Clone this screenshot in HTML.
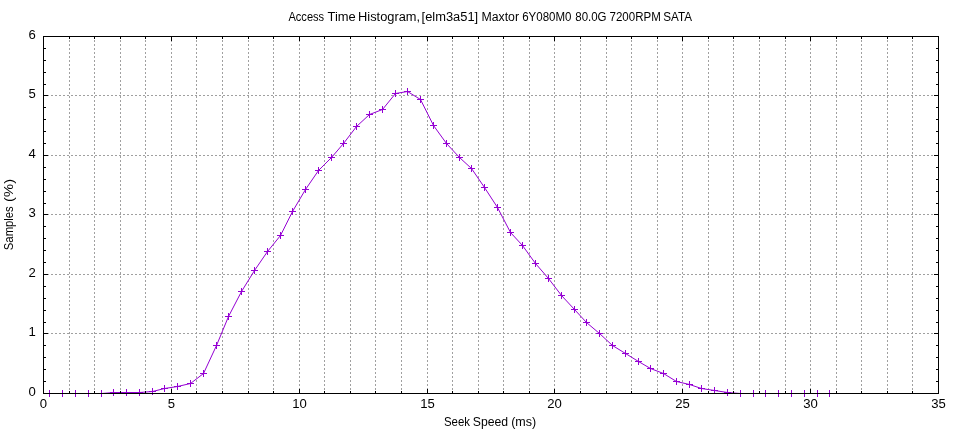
<!DOCTYPE html>
<html><head><meta charset="utf-8"><title>Access Time Histogram</title>
<style>html,body{margin:0;padding:0;background:#fff;overflow:hidden}svg{display:block;font-family:"Liberation Sans",sans-serif}</style></head>
<body>
<svg width="960" height="432" viewBox="0 0 960 432">
<rect width="960" height="432" fill="#fff"/>
<path d="M69.5 394V36M94.5 394V36M120.5 394V36M145.5 394V36M171.5 394V36M196.5 394V36M222.5 394V36M248.5 394V36M273.5 394V36M299.5 394V36M324.5 394V36M350.5 394V36M375.5 394V36M401.5 394V36M427.5 394V36M452.5 394V36M478.5 394V36M503.5 394V36M529.5 394V36M554.5 394V36M580.5 394V36M606.5 394V36M631.5 394V36M657.5 394V36M682.5 394V36M708.5 394V36M733.5 394V36M759.5 394V36M785.5 394V36M810.5 394V36M836.5 394V36M861.5 394V36M887.5 394V36M912.5 394V36" stroke="#a0a0a0" stroke-width="1" stroke-dasharray="2 2" fill="none" shape-rendering="crispEdges"/>
<path d="M43 333.5H939M43 274.5H939M43 214.5H939M43 155.5H939M43 95.5H939" stroke="#a0a0a0" stroke-width="1" stroke-dasharray="2 2" fill="none" shape-rendering="crispEdges"/>
<polyline points="49.5,393.5 62.5,393.5 75.5,393.5 88.5,393.5 101.5,393.5 113.5,392.5 126.5,392.5 139.5,392.5 152.5,391.5 164.5,388.5 177.5,386.5 190.5,383.5 203.5,373.5 216.5,345.5 228.5,316.5 241.5,291.5 254.5,270.5 267.5,251.5 280.5,235.5 292.5,211.5 305.5,189.5 318.5,170.5 331.5,157.5 343.5,143.5 356.5,126.5 369.5,114.5 382.5,109.5 395.5,93.5 407.5,91.5 420.5,99.5 433.5,125.5 446.5,143.5 459.5,157.5 471.5,168.5 484.5,187.5 497.5,207.5 510.5,232.5 522.5,245.5 535.5,263.5 548.5,278.5 561.5,295.5 574.5,309.5 586.5,322.5 599.5,333.5 612.5,345.5 625.5,353.5 638.5,361.5 650.5,368.5 663.5,373.5 676.5,381.5 689.5,384.5 701.5,388.5 714.5,390.5 727.5,392.5 740.5,393.5 753.5,393.5 765.5,393.5 778.5,393.5 791.5,393.5 804.5,393.5 817.5,393.5 829.5,393.5" fill="none" stroke="#9400d3" stroke-width="1" stroke-linejoin="round"/>
<path d="M46.0 393.5h7M49.5 390.0v7M59.0 393.5h7M62.5 390.0v7M72.0 393.5h7M75.5 390.0v7M85.0 393.5h7M88.5 390.0v7M98.0 393.5h7M101.5 390.0v7M110.0 392.5h7M113.5 389.0v7M123.0 392.5h7M126.5 389.0v7M136.0 392.5h7M139.5 389.0v7M149.0 391.5h7M152.5 388.0v7M161.0 388.5h7M164.5 385.0v7M174.0 386.5h7M177.5 383.0v7M187.0 383.5h7M190.5 380.0v7M200.0 373.5h7M203.5 370.0v7M213.0 345.5h7M216.5 342.0v7M225.0 316.5h7M228.5 313.0v7M238.0 291.5h7M241.5 288.0v7M251.0 270.5h7M254.5 267.0v7M264.0 251.5h7M267.5 248.0v7M277.0 235.5h7M280.5 232.0v7M289.0 211.5h7M292.5 208.0v7M302.0 189.5h7M305.5 186.0v7M315.0 170.5h7M318.5 167.0v7M328.0 157.5h7M331.5 154.0v7M340.0 143.5h7M343.5 140.0v7M353.0 126.5h7M356.5 123.0v7M366.0 114.5h7M369.5 111.0v7M379.0 109.5h7M382.5 106.0v7M392.0 93.5h7M395.5 90.0v7M404.0 91.5h7M407.5 88.0v7M417.0 99.5h7M420.5 96.0v7M430.0 125.5h7M433.5 122.0v7M443.0 143.5h7M446.5 140.0v7M456.0 157.5h7M459.5 154.0v7M468.0 168.5h7M471.5 165.0v7M481.0 187.5h7M484.5 184.0v7M494.0 207.5h7M497.5 204.0v7M507.0 232.5h7M510.5 229.0v7M519.0 245.5h7M522.5 242.0v7M532.0 263.5h7M535.5 260.0v7M545.0 278.5h7M548.5 275.0v7M558.0 295.5h7M561.5 292.0v7M571.0 309.5h7M574.5 306.0v7M583.0 322.5h7M586.5 319.0v7M596.0 333.5h7M599.5 330.0v7M609.0 345.5h7M612.5 342.0v7M622.0 353.5h7M625.5 350.0v7M635.0 361.5h7M638.5 358.0v7M647.0 368.5h7M650.5 365.0v7M660.0 373.5h7M663.5 370.0v7M673.0 381.5h7M676.5 378.0v7M686.0 384.5h7M689.5 381.0v7M698.0 388.5h7M701.5 385.0v7M711.0 390.5h7M714.5 387.0v7M724.0 392.5h7M727.5 389.0v7M737.0 393.5h7M740.5 390.0v7M750.0 393.5h7M753.5 390.0v7M762.0 393.5h7M765.5 390.0v7M775.0 393.5h7M778.5 390.0v7M788.0 393.5h7M791.5 390.0v7M801.0 393.5h7M804.5 390.0v7M814.0 393.5h7M817.5 390.0v7M826.0 393.5h7M829.5 390.0v7" stroke="#9400d3" stroke-width="1" fill="none"/>
<path d="M43.5 393.5v-4.5M43.5 36.5v4.5M69.5 393.5v-2.5M69.5 36.5v2.5M94.5 393.5v-2.5M94.5 36.5v2.5M120.5 393.5v-2.5M120.5 36.5v2.5M145.5 393.5v-2.5M145.5 36.5v2.5M171.5 393.5v-4.5M171.5 36.5v4.5M196.5 393.5v-2.5M196.5 36.5v2.5M222.5 393.5v-2.5M222.5 36.5v2.5M248.5 393.5v-2.5M248.5 36.5v2.5M273.5 393.5v-2.5M273.5 36.5v2.5M299.5 393.5v-4.5M299.5 36.5v4.5M324.5 393.5v-2.5M324.5 36.5v2.5M350.5 393.5v-2.5M350.5 36.5v2.5M375.5 393.5v-2.5M375.5 36.5v2.5M401.5 393.5v-2.5M401.5 36.5v2.5M427.5 393.5v-4.5M427.5 36.5v4.5M452.5 393.5v-2.5M452.5 36.5v2.5M478.5 393.5v-2.5M478.5 36.5v2.5M503.5 393.5v-2.5M503.5 36.5v2.5M529.5 393.5v-2.5M529.5 36.5v2.5M554.5 393.5v-4.5M554.5 36.5v4.5M580.5 393.5v-2.5M580.5 36.5v2.5M606.5 393.5v-2.5M606.5 36.5v2.5M631.5 393.5v-2.5M631.5 36.5v2.5M657.5 393.5v-2.5M657.5 36.5v2.5M682.5 393.5v-4.5M682.5 36.5v4.5M708.5 393.5v-2.5M708.5 36.5v2.5M733.5 393.5v-2.5M733.5 36.5v2.5M759.5 393.5v-2.5M759.5 36.5v2.5M785.5 393.5v-2.5M785.5 36.5v2.5M810.5 393.5v-4.5M810.5 36.5v4.5M836.5 393.5v-2.5M836.5 36.5v2.5M861.5 393.5v-2.5M861.5 36.5v2.5M887.5 393.5v-2.5M887.5 36.5v2.5M912.5 393.5v-2.5M912.5 36.5v2.5M938.5 393.5v-4.5M938.5 36.5v4.5M43.5 393.5h4.5M938.5 393.5h-4.5M43.5 381.5h2.5M938.5 381.5h-2.5M43.5 369.5h2.5M938.5 369.5h-2.5M43.5 357.5h2.5M938.5 357.5h-2.5M43.5 345.5h2.5M938.5 345.5h-2.5M43.5 333.5h4.5M938.5 333.5h-4.5M43.5 322.5h2.5M938.5 322.5h-2.5M43.5 310.5h2.5M938.5 310.5h-2.5M43.5 298.5h2.5M938.5 298.5h-2.5M43.5 286.5h2.5M938.5 286.5h-2.5M43.5 274.5h4.5M938.5 274.5h-4.5M43.5 262.5h2.5M938.5 262.5h-2.5M43.5 250.5h2.5M938.5 250.5h-2.5M43.5 238.5h2.5M938.5 238.5h-2.5M43.5 226.5h2.5M938.5 226.5h-2.5M43.5 214.5h4.5M938.5 214.5h-4.5M43.5 203.5h2.5M938.5 203.5h-2.5M43.5 191.5h2.5M938.5 191.5h-2.5M43.5 179.5h2.5M938.5 179.5h-2.5M43.5 167.5h2.5M938.5 167.5h-2.5M43.5 155.5h4.5M938.5 155.5h-4.5M43.5 143.5h2.5M938.5 143.5h-2.5M43.5 131.5h2.5M938.5 131.5h-2.5M43.5 119.5h2.5M938.5 119.5h-2.5M43.5 107.5h2.5M938.5 107.5h-2.5M43.5 95.5h4.5M938.5 95.5h-4.5M43.5 84.5h2.5M938.5 84.5h-2.5M43.5 72.5h2.5M938.5 72.5h-2.5M43.5 60.5h2.5M938.5 60.5h-2.5M43.5 48.5h2.5M938.5 48.5h-2.5M43.5 36.5h4.5M938.5 36.5h-4.5" stroke="#000" stroke-width="1" fill="none"/>
<rect x="43.5" y="36.5" width="895" height="357" fill="none" stroke="#000" stroke-width="1"/>
<g opacity="0.999">
<text x="288.40" y="21" font-family="Liberation Sans, sans-serif" font-size="12.5px" fill="#000" textLength="35.79" lengthAdjust="spacingAndGlyphs">Access</text>
<text x="327.49" y="21" font-family="Liberation Sans, sans-serif" font-size="12.5px" fill="#000" textLength="28.31" lengthAdjust="spacingAndGlyphs">Time</text>
<text x="358.07" y="21" font-family="Liberation Sans, sans-serif" font-size="12.5px" fill="#000" textLength="62.05" lengthAdjust="spacingAndGlyphs">Histogram,</text>
<text x="421.57" y="21" font-family="Liberation Sans, sans-serif" font-size="12.5px" fill="#000" textLength="56.62" lengthAdjust="spacingAndGlyphs">[elm3a51]</text>
<text x="481.42" y="21" font-family="Liberation Sans, sans-serif" font-size="12.5px" fill="#000" textLength="37.58" lengthAdjust="spacingAndGlyphs">Maxtor</text>
<text x="522.21" y="21" font-family="Liberation Sans, sans-serif" font-size="12.5px" fill="#000" textLength="49.27" lengthAdjust="spacingAndGlyphs">6Y080M0</text>
<text x="575.24" y="21" font-family="Liberation Sans, sans-serif" font-size="12.5px" fill="#000" textLength="31.34" lengthAdjust="spacingAndGlyphs">80.0G</text>
<text x="609.56" y="21" font-family="Liberation Sans, sans-serif" font-size="12.5px" fill="#000" textLength="51.25" lengthAdjust="spacingAndGlyphs">7200RPM</text>
<text x="663.20" y="21" font-family="Liberation Sans, sans-serif" font-size="12.5px" fill="#000" textLength="28.74" lengthAdjust="spacingAndGlyphs">SATA</text>
<text x="443.91" y="426" font-family="Liberation Sans, sans-serif" font-size="12.5px" fill="#000" textLength="26.09" lengthAdjust="spacingAndGlyphs">Seek</text>
<text x="472.77" y="426" font-family="Liberation Sans, sans-serif" font-size="12.5px" fill="#000" textLength="35.37" lengthAdjust="spacingAndGlyphs">Speed</text>
<text x="511.15" y="426" font-family="Liberation Sans, sans-serif" font-size="12.5px" fill="#000" textLength="25.00" lengthAdjust="spacingAndGlyphs">(ms)</text>
<text transform="translate(12.5,250.18) rotate(-90)" font-family="Liberation Sans, sans-serif" font-size="12.5px" fill="#000" textLength="43.93" lengthAdjust="spacingAndGlyphs">Samples</text>
<text transform="translate(12.5,201.89) rotate(-90)" font-family="Liberation Sans, sans-serif" font-size="12.5px" fill="#000" textLength="23.01" lengthAdjust="spacingAndGlyphs">(%)</text>
<text x="43.5" y="407.7" text-anchor="middle" font-family="Liberation Sans, sans-serif" font-size="12.5px" fill="#000" textLength="7.30" lengthAdjust="spacingAndGlyphs">0</text>
<text x="171.5" y="407.7" text-anchor="middle" font-family="Liberation Sans, sans-serif" font-size="12.5px" fill="#000" textLength="7.30" lengthAdjust="spacingAndGlyphs">5</text>
<text x="299.5" y="407.7" text-anchor="middle" font-family="Liberation Sans, sans-serif" font-size="12.5px" fill="#000" textLength="14.60" lengthAdjust="spacingAndGlyphs">10</text>
<text x="427.5" y="407.7" text-anchor="middle" font-family="Liberation Sans, sans-serif" font-size="12.5px" fill="#000" textLength="14.60" lengthAdjust="spacingAndGlyphs">15</text>
<text x="554.5" y="407.7" text-anchor="middle" font-family="Liberation Sans, sans-serif" font-size="12.5px" fill="#000" textLength="14.60" lengthAdjust="spacingAndGlyphs">20</text>
<text x="682.5" y="407.7" text-anchor="middle" font-family="Liberation Sans, sans-serif" font-size="12.5px" fill="#000" textLength="14.60" lengthAdjust="spacingAndGlyphs">25</text>
<text x="810.5" y="407.7" text-anchor="middle" font-family="Liberation Sans, sans-serif" font-size="12.5px" fill="#000" textLength="14.60" lengthAdjust="spacingAndGlyphs">30</text>
<text x="938.5" y="407.7" text-anchor="middle" font-family="Liberation Sans, sans-serif" font-size="12.5px" fill="#000" textLength="14.60" lengthAdjust="spacingAndGlyphs">35</text>
<text x="35.9" y="396.0" text-anchor="end" font-family="Liberation Sans, sans-serif" font-size="12.5px" fill="#000" textLength="7.30" lengthAdjust="spacingAndGlyphs">0</text>
<text x="35.9" y="336.0" text-anchor="end" font-family="Liberation Sans, sans-serif" font-size="12.5px" fill="#000" textLength="7.30" lengthAdjust="spacingAndGlyphs">1</text>
<text x="35.9" y="277.0" text-anchor="end" font-family="Liberation Sans, sans-serif" font-size="12.5px" fill="#000" textLength="7.30" lengthAdjust="spacingAndGlyphs">2</text>
<text x="35.9" y="217.0" text-anchor="end" font-family="Liberation Sans, sans-serif" font-size="12.5px" fill="#000" textLength="7.30" lengthAdjust="spacingAndGlyphs">3</text>
<text x="35.9" y="158.0" text-anchor="end" font-family="Liberation Sans, sans-serif" font-size="12.5px" fill="#000" textLength="7.30" lengthAdjust="spacingAndGlyphs">4</text>
<text x="35.9" y="98.0" text-anchor="end" font-family="Liberation Sans, sans-serif" font-size="12.5px" fill="#000" textLength="7.30" lengthAdjust="spacingAndGlyphs">5</text>
<text x="35.9" y="39.0" text-anchor="end" font-family="Liberation Sans, sans-serif" font-size="12.5px" fill="#000" textLength="7.30" lengthAdjust="spacingAndGlyphs">6</text>
</g>
</svg></body></html>
